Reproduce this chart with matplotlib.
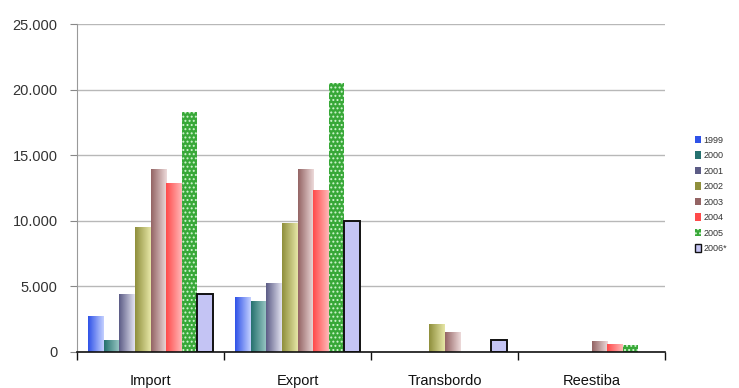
import numpy as np
import matplotlib.pyplot as plt
from matplotlib.colors import LinearSegmentedColormap
from matplotlib.patches import Patch
from matplotlib.ticker import FuncFormatter

categories = ["Import", "Export", "Transbordo", "Reestiba"]
years = ["1999", "2000", "2001", "2002", "2003", "2004", "2005", "2006*"]

v1999 = [2700, 4150, 0, 0]
v2000 = [900, 3850, 0, 0]
v2001 = [4400, 5250, 0, 0]
v2002 = [9500, 9800, 2100, 0]
v2003 = [13950, 13950, 1450, 780]
v2004 = [12850, 12350, 0, 600]
v2005 = [18300, 20500, 0, 550]
v2006 = [4400, 10000, 900, 0]
series = [v1999, v2000, v2001, v2002, v2003, v2004, v2005, v2006]

# dark -> light shading for the gradient bars
shades = {
    0: ("#2f52e8", "#c4d0ff"),
    1: ("#25716f", "#9cc9c6"),
    2: ("#5c5c86", "#e2e2f0"),
    3: ("#8f8f3c", "#e6e6a6"),
    4: ("#946464", "#eddada"),
    5: ("#ff4a4a", "#ffb8b8"),
}

plt.rcParams["font.family"] = ["Liberation Sans", "DejaVu Sans"]
plt.rcParams["hatch.linewidth"] = 0.9

fig = plt.figure(figsize=(7.39, 3.88), dpi=100)
ax = fig.add_axes([0.1042, 0.0928, 0.7957, 0.845])

n = len(categories)
nb = len(years)
width = 0.85 / nb
x = np.arange(n)

ax.set_xlim(-0.5, n - 0.5)
ax.set_ylim(0, 25000)

handles = []
for i, vals in enumerate(series):
    pos = x - 0.425 + width * (i + 0.5)
    if i in shades:
        c0, c1 = shades[i]
        cmap = LinearSegmentedColormap.from_list("g%d" % i, [c0, c1])
        grad = np.linspace(0, 1, 64).reshape(1, -1)
        for p, v in zip(pos, vals):
            if v <= 0:
                continue
            ax.imshow(grad, cmap=cmap, aspect="auto", interpolation="bilinear",
                      extent=[p - width / 2, p + width / 2, 0, v], zorder=2)
        handles.append(Patch(facecolor=c0, edgecolor="none", label=years[i]))
    elif i == 6:
        ax.bar(pos, vals, width, color="#38a838", edgecolor="#d0f5d0",
               hatch="....", linewidth=0, zorder=2)
        handles.append(Patch(facecolor="#38a838", edgecolor="#d0f5d0",
                             hatch="....", linewidth=0, label=years[i]))
    else:
        ax.bar([p for p, v in zip(pos, vals) if v > 0],
               [v for v in vals if v > 0], width, color="#c4c4f4",
               edgecolor="#111111", linewidth=1.4, zorder=2)
        handles.append(Patch(facecolor="#c4c4f4", edgecolor="#111111",
                             linewidth=1.0, label=years[i]))

ax.set_xlim(-0.5, n - 0.5)
ax.set_ylim(0, 25000)

ax.set_yticks(np.arange(0, 25001, 5000))
ax.yaxis.set_major_formatter(FuncFormatter(lambda v, _: f"{int(v):,}".replace(",", ".")))
ax.grid(axis="y", color="#b8b8b8", linewidth=1.0, zorder=0)
ax.set_axisbelow(True)

ax.set_xticks(x)
ax.set_xticklabels(categories, fontsize=10.5)
ax.set_xticks(np.arange(-0.5, n, 1), minor=True)
ax.tick_params(axis="x", which="major", length=0, pad=16, colors="#111111")
ax.tick_params(axis="x", which="minor", length=6, width=1, direction="out", color="#111111")
ax.tick_params(axis="y", length=5, pad=9, color="#888888", labelsize=10.5, labelcolor="#333333")

for s in ["top", "right"]:
    ax.spines[s].set_visible(False)
ax.spines["left"].set_color("#999999")
ax.spines["bottom"].set_color("#111111")
ax.spines["bottom"].set_linewidth(1.2)

fig.legend(handles=handles, loc="upper left", bbox_to_anchor=(0.936, 0.66),
           frameon=False, fontsize=6.5, handlelength=0.6, handleheight=0.9,
           handletextpad=0.3, labelspacing=0.72, borderaxespad=0,
           labelcolor="#333333")

fig.savefig("out.png", dpi=100)
